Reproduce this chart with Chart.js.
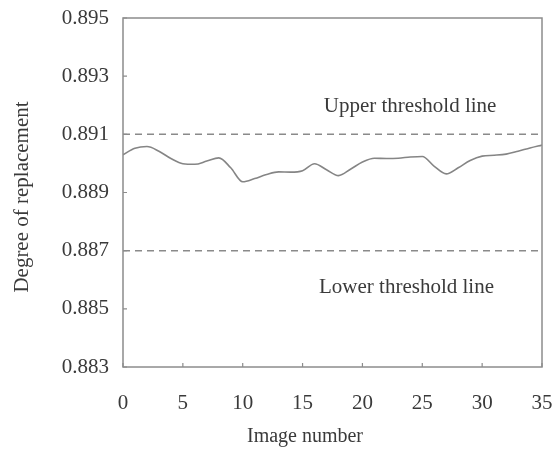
<!DOCTYPE html>
<html>
<head>
<meta charset="utf-8">
<style>
  html, body { margin: 0; padding: 0; background: #ffffff; }
  #wrap { width: 554px; height: 453px; position: relative; }
</style>
<script src="https://cdn.jsdelivr.net/npm/chart.js@4.4.1/dist/chart.umd.min.js"></script>
</head>
<body>
<div id="wrap"><canvas id="c" width="554" height="453"></canvas></div>
<script>
// ---- data ----
const imageNumbers = [0,1,2,3,4,5,6,7,8,9,10,11,12,13,14,15,16,17,18,19,20,21,22,23,24,25,26,27,28,29,30,31,32,33,34,35];
const replacementDegree = [
  0.89030, 0.89052, 0.89058, 0.89042, 0.89017, 0.88999, 0.88997, 0.89008, 0.89019, 0.88985,
  0.88937, 0.88948, 0.88962, 0.88971, 0.88970, 0.88975, 0.88999, 0.88978, 0.88958, 0.88980,
  0.89005, 0.89018, 0.89017, 0.89018, 0.89022, 0.89024, 0.88990, 0.88964, 0.88985, 0.89010,
  0.89025, 0.89028, 0.89032, 0.89042, 0.89053, 0.89063
];
const upperThreshold = 0.891;
const lowerThreshold = 0.887;
const xTicks = [0, 5, 10, 15, 20, 25, 30, 35];
const yTicks = [0.883, 0.885, 0.887, 0.889, 0.891, 0.893, 0.895];
const xAxisTitle = "Image number";
const yAxisTitle = "Degree of replacement";
const upperLabel = "Upper threshold line";
const lowerLabel = "Lower threshold line";

// label anchor points in data units
const upperLabelAt = { x: 23.98, y: 0.89176 };
const lowerLabelAt = { x: 23.68, y: 0.88556 };

const FONT = "'Liberation Serif', 'Times New Roman', serif";
const TEXT = "#3a3a3a";
const AXIS = "#8c8c8c";

const series = imageNumbers.map((x, i) => ({ x: x, y: replacementDegree[i] }));
const xMin = xTicks[0], xMax = xTicks[xTicks.length - 1];

const decorations = {
  id: 'decorations',
  afterDatasetsDraw(chart) {
    const ctx = chart.ctx;
    const a = chart.chartArea;
    const xs = chart.scales.x, ys = chart.scales.y;
    ctx.save();
    // frame
    ctx.strokeStyle = AXIS;
    ctx.lineWidth = 1.5;
    ctx.strokeRect(a.left, a.top, a.right - a.left, a.bottom - a.top);
    // inside ticks
    ctx.lineWidth = 1.2;
    ctx.beginPath();
    xTicks.forEach(v => {
      const px = xs.getPixelForValue(v);
      ctx.moveTo(px, a.bottom);
      ctx.lineTo(px, a.bottom - 4);
    });
    yTicks.forEach(v => {
      const py = ys.getPixelForValue(v);
      ctx.moveTo(a.left, py);
      ctx.lineTo(a.left + 4, py);
    });
    ctx.stroke();
    // threshold labels
    ctx.fillStyle = TEXT;
    ctx.font = "21px " + FONT;
    ctx.textAlign = 'center';
    ctx.textBaseline = 'alphabetic';
    ctx.fillText(upperLabel, xs.getPixelForValue(upperLabelAt.x), ys.getPixelForValue(upperLabelAt.y));
    ctx.fillText(lowerLabel, xs.getPixelForValue(lowerLabelAt.x), ys.getPixelForValue(lowerLabelAt.y));
    // axis titles
    ctx.font = "20px " + FONT;
    ctx.textBaseline = 'middle';
    ctx.fillText(xAxisTitle, 305, 437);
    ctx.translate(22, 197);
    ctx.rotate(-Math.PI / 2);
    ctx.font = "21px " + FONT;
    ctx.fillText(yAxisTitle, 0, 0);
    ctx.restore();
  }
};

new Chart(document.getElementById('c'), {
  type: 'line',
  data: {
    datasets: [
      {
        label: 'Degree of replacement',
        data: series,
        borderColor: '#858585',
        borderWidth: 1.6,
        pointRadius: 0,
        fill: false,
        cubicInterpolationMode: 'monotone'
      },
      {
        label: 'Upper threshold line',
        data: [{ x: xMin, y: upperThreshold }, { x: xMax, y: upperThreshold }],
        borderColor: '#8a8a8a',
        borderWidth: 1.5,
        borderDash: [7, 5],
        pointRadius: 0,
        fill: false
      },
      {
        label: 'Lower threshold line',
        data: [{ x: xMin, y: lowerThreshold }, { x: xMax, y: lowerThreshold }],
        borderColor: '#8a8a8a',
        borderWidth: 1.5,
        borderDash: [7, 5],
        pointRadius: 0,
        fill: false
      }
    ]
  },
  options: {
    responsive: false,
    animation: false,
    devicePixelRatio: 1,
    layout: { padding: { top: 18, right: 12, left: 0, bottom: 0 } },
    plugins: { legend: { display: false }, tooltip: { enabled: false } },
    scales: {
      x: {
        type: 'linear',
        min: xMin,
        max: xMax,
        afterBuildTicks: s => { s.ticks = xTicks.map(v => ({ value: v })); },
        afterFit: s => { s.height = 86; s.paddingLeft = 0; s.paddingRight = 0; },
        grid: { display: false, drawTicks: false },
        border: { display: false },
        ticks: {
          padding: 24,
          color: TEXT,
          font: { family: FONT, size: 21 },
          maxRotation: 0,
          callback: v => String(v)
        }
      },
      y: {
        min: yTicks[0],
        max: yTicks[yTicks.length - 1],
        afterBuildTicks: s => { s.ticks = yTicks.map(v => ({ value: v })); },
        afterFit: s => { s.width = 123; s.paddingTop = 0; s.paddingBottom = 0; },
        grid: { display: false, drawTicks: false },
        border: { display: false },
        ticks: {
          padding: 14,
          color: TEXT,
          font: { family: FONT, size: 21 },
          callback: v => Number(v).toFixed(3)
        }
      }
    }
  },
  plugins: [decorations]
});
</script>
</body>
</html>
